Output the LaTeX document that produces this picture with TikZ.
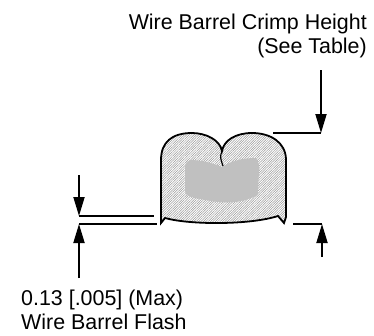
\documentclass[tikz,border=0pt]{standalone}
\usepackage{fontspec}
\setmainfont{Liberation Sans}
\usetikzlibrary{arrows.meta,patterns.meta}
\definecolor{coregray}{HTML}{C0C0C0}
\tikzset{
  dimline/.style={line width=1.8bp},
  dimarrow/.style={line width=1.8bp,-{Triangle[length=19bp,width=11bp]}},
  label/.style={inner sep=0pt,font=\fontsize{21.5}{23.5}\selectfont}
}
\begin{document}
\begin{tikzpicture}[x=1bp,y=-1bp]
                \useasboundingbox (0,0) rectangle (374,336);
                % barrel section
                \draw[line width=1.8bp,pattern={Lines[angle=45,distance=1.7bp,line width=0.5bp]},pattern color=black!40]
                    (161,217) -- (161,223) -- (165,218)
                    .. controls (190,225) and (250,225) .. (278,216) -- (284,223) -- (286,217)
                    -- (286,160) .. controls (286,142) and (270,133) .. (252,133)
                    .. controls (236,133) and (224,140) .. (222,151)
                    .. controls (220,140) and (206,133) .. (192,133)
                    .. controls (172,133) and (161,142) .. (161,160) -- cycle;
                \draw[line width=1.2bp] (222,151) .. controls (220,157) .. (223,166);
                \fill[coregray] (185,172) .. controls (185,163) .. (190,160)
                    .. controls (200,160) and (210,162) .. (222,167)
                    .. controls (232,160) and (245,158) .. (256,158)
                    .. controls (259,162) and (260,168) .. (259,172) -- (258,190)
                    .. controls (258,195) .. (254,197)
                    .. controls (240,203) and (225,204) .. (205,200)
                    .. controls (195,198) and (186,197) .. (185,192) -- cycle;
                % crimp height
                \node[label,anchor=base east,align=right] (crimplabel) at (367,53) {Wire Barrel Crimp Height\\(See Table)};
                \coordinate (crimptop) at (321,70);
                \coordinate (crimpend) at (321,133);
                \coordinate (crimpbot) at (322,257);
                \coordinate (crimpfoot) at (322,224);
                \draw[dimline] (273,133) -- (crimpend);
                \draw[dimarrow] (crimptop) -- (crimpend);
                \draw[dimline] (293,224) -- (crimpfoot);
                \draw[dimarrow] (crimpbot) -- (crimpfoot);
                % flash
                \node[label,anchor=base west,align=left] (flashlabel) at (21,329) {0.13 [.005] (Max)\\Wire Barrel Flash};
                \coordinate (flashtop) at (79,175);
                \coordinate (flashhi) at (79,216);
                \coordinate (flashlo) at (79,224);
                \coordinate (flashbot) at (79,278);
                \draw[dimline] (flashhi) -- (154,216);
                \draw[dimline] (flashlo) -- (157,224);
                \draw[dimarrow] (flashtop) -- (flashhi);
                \draw[dimarrow] (flashbot) -- (flashlo);
            \end{tikzpicture}
\end{document}
